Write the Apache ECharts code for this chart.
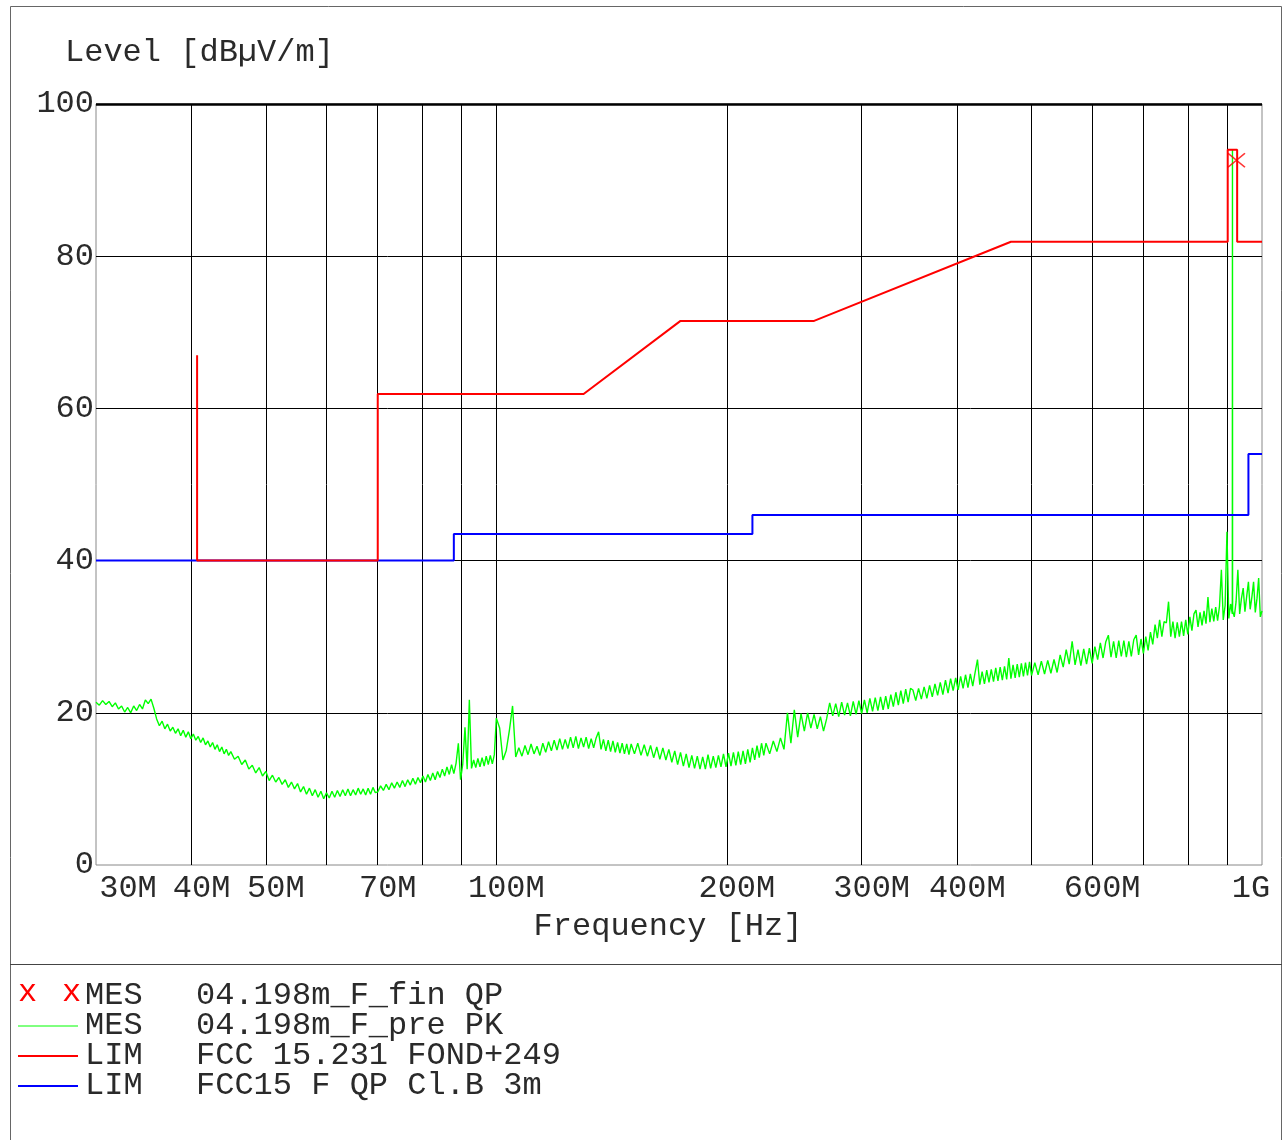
<!DOCTYPE html>
<html>
<head>
<meta charset="utf-8">
<title>Level [dBµV/m]</title>
<script src="https://cdn.jsdelivr.net/npm/echarts@6.0.0/dist/echarts.min.js"></script>
<style>
html, body { margin: 0; padding: 0; background: #fff; }
#chart { width: 1284px; height: 1140px; }
</style>
</head>
<body>
<div id="chart"></div>
<script>
// preview sweep (PK), [MHz, dBuV/m]
var pkTrace = [
    [30.0,21.4],[30.3,21.0],[30.6,21.6],[30.9,21.1],[31.2,21.5],[31.5,20.8],[31.8,21.3],[32.1,20.5],[32.4,20.9],[32.7,20.1],
    [33.0,20.7],[33.3,20.0],[33.6,20.9],[33.9,20.3],[34.2,21.1],[34.5,20.5],[34.8,21.7],[35.1,21.2],[35.4,21.8],[35.7,20.6],
    [36.0,19.2],[36.3,18.3],[36.6,18.9],[36.9,17.9],[37.2,18.5],[37.5,17.6],[37.8,18.1],[38.1,17.3],[38.4,17.9],[38.7,17.0],
    [39.0,17.7],[39.3,16.8],[39.6,17.5],[39.9,16.6],[40.2,17.2],[40.5,16.4],[40.8,16.9],[41.1,16.1],[41.4,16.7],[41.7,15.8],
    [42.0,16.3],[42.3,15.5],[42.6,16.1],[42.9,15.2],[43.2,15.8],[43.5,14.9],[43.8,15.5],[44.1,14.6],[44.4,15.2],[44.7,14.4],
    [45.0,14.9],[45.5,13.9],[46.0,14.3],[46.5,13.2],[47.0,13.8],[47.5,12.6],[48.0,13.1],[48.5,12.1],[49.0,12.8],[49.5,11.7],
    [50.0,12.3],[50.5,11.1],[51.0,11.8],[51.5,10.9],[52.0,11.5],[52.5,10.6],[53.0,11.2],[53.5,10.2],[54.0,10.9],[54.5,10.0],
    [55.0,10.7],[55.5,9.6],[56.0,10.3],[56.5,9.3],[57.0,10.1],[57.5,9.1],[58.0,9.9],[58.5,8.9],[59.0,9.7],[59.5,8.7],
    [60.0,9.5],[60.5,8.8],[61.0,9.7],[61.5,8.9],[62.0,9.8],[62.5,9.0],[63.0,9.9],[63.5,9.1],[64.0,10.0],[64.5,9.1],
    [65.0,9.9],[65.5,9.2],[66.0,10.1],[66.5,9.3],[67.0,10.0],[67.5,9.2],[68.0,10.1],[68.5,9.3],[69.0,10.2],[69.5,9.5],
    [70.0,9.6],[70.6,10.4],[71.2,9.8],[71.8,10.6],[72.4,9.9],[73.0,10.8],[73.6,10.1],[74.2,10.9],[74.8,10.2],[75.4,11.1],
    [76.0,10.3],[76.6,11.2],[77.2,10.5],[77.8,11.4],[78.4,10.6],[79.0,11.5],[79.6,10.8],[80.2,11.7],[80.8,10.9],[81.4,11.9],
    [82.0,11.1],[82.6,12.1],[83.2,11.2],[83.8,12.3],[84.4,11.5],[85.0,12.6],[85.6,11.7],[86.2,12.9],[86.8,11.9],[87.4,13.2],
    [88.0,12.0],[88.6,13.4],[89.2,16.0],[89.8,11.2],[90.4,13.3],[91.0,18.1],[91.6,12.6],[92.2,21.7],[92.8,12.7],[93.4,13.8],
    [94.0,12.8],[94.6,14.0],[95.2,12.9],[95.8,14.1],[96.4,13.0],[97.0,14.3],[97.6,13.2],[98.2,14.4],[98.8,13.3],[99.4,14.5],
    [100,19.3],[101,18.0],[102,13.8],[103,15.0],[104,17.7],[105,20.9],[106,14.2],[107,15.4],[108,14.3],[109,15.7],
    [110,14.5],[111,15.9],[112,14.6],[113,15.6],[114,14.4],[115,16.0],[116,14.8],[117,16.2],[118,15.0],[119,16.4],
    [120,15.1],[121,16.6],[122,15.2],[123,16.5],[124,15.3],[125,16.8],[126,15.4],[127,16.9],[128,15.3],[129,16.7],
    [130,15.5],[131,16.8],[132,15.3],[133,16.6],[134,15.4],[135,16.7],[136,17.5],[137,15.2],[138,16.5],[139,15.0],
    [140,16.4],[141,14.9],[142,16.3],[143,14.8],[144,16.1],[145,14.7],[146,16.0],[147,14.6],[148,15.9],[149,14.5],
    [150,15.9],[151.5,14.6],[153,16.0],[154.5,14.4],[156,15.8],[157.5,14.3],[159,15.7],[160.5,14.1],[162,15.5],[163.5,13.9],
    [165,15.4],[166.5,13.8],[168,15.2],[169.5,13.5],[171,15.0],[172.5,13.2],[174,14.8],[175.5,13.0],[177,14.6],[178.5,12.8],
    [180,14.4],[181.5,12.7],[183,14.3],[184.5,12.6],[186,14.2],[187.5,12.6],[189,14.5],[190.5,12.7],[192,14.3],[193.5,12.8],
    [195,14.4],[196.5,12.9],[198,14.6],[199.5,12.9],[201,14.7],[202.5,13.0],[204,14.8],[205.5,13.1],[207,14.9],[208.5,13.2],
    [210,15.0],[211.5,13.3],[213,15.2],[214.5,13.5],[216,15.4],[217.5,13.8],[219,15.7],[220.5,14.1],[222,16.0],[223.5,14.4],
    [225,16.0],[227.5,14.6],[230,16.3],[232.5,14.9],[235,16.7],[237.5,15.2],[240,20.0],[242.5,16.0],[245,20.4],[247.5,16.8],
    [250,19.9],[252.5,17.6],[255,20.0],[257.5,18.0],[260,19.8],[262.5,17.9],[265,19.5],[267.5,17.6],[270,19.2],[272.5,21.3],
    [275,19.6],[277.5,21.2],[280,19.5],[282.5,21.4],[285,19.7],[287.5,21.3],[290,19.6],[292.5,21.5],[295,19.8],[297.5,21.6],
    [300,19.9],[302.5,21.7],[305,20.0],[307.5,21.9],[310,20.2],[312.5,22.0],[315,20.3],[317.5,22.1],[320,20.4],[322.5,22.2],
    [325,20.5],[327.5,22.4],[330,20.8],[332.5,22.7],[335,21.0],[337.5,22.9],[340,21.2],[342.5,23.1],[345,21.4],[347.5,23.2],
    [350,23.0],[353,21.6],[356,23.2],[359,21.8],[362,23.4],[365,21.9],[368,23.6],[371,22.1],[374,23.8],[377,22.3],
    [380,24.0],[383,22.4],[386,24.3],[389,22.6],[392,24.5],[395,22.9],[398,24.6],[401,23.0],[404,24.8],[407,23.2],
    [410,25.0],[413,23.3],[416,25.1],[419,23.5],[422,25.3],[425,27.0],[428,23.7],[431,25.4],[434,23.8],[437,25.6],
    [440,24.0],[443,25.7],[446,24.1],[449,25.9],[452,24.2],[455,26.0],[458,24.3],[461,26.1],[464,24.4],[467,27.2],
    [470,24.5],[473,26.3],[476,24.6],[479,26.4],[482,24.7],[485,26.5],[488,24.8],[491,26.6],[494,24.9],[497,26.7],
    [500,24.9],[505,26.6],[510,25.0],[515,26.8],[520,25.1],[525,26.9],[530,25.2],[535,27.0],[540,25.3],[545,27.6],
    [550,26.0],[555,28.3],[560,26.4],[565,29.4],[570,26.3],[575,28.3],[580,26.2],[585,28.4],[590,26.4],[595,28.5],
    [600,26.5],[605,28.7],[610,27.0],[615,29.2],[620,27.2],[625,29.3],[630,30.2],[635,27.3],[640,29.4],[645,27.2],
    [650,29.5],[655,27.4],[660,29.5],[665,27.3],[670,29.4],[675,27.4],[680,29.6],[685,30.2],[690,27.6],[695,29.7],
    [700,27.8],[705,30.0],[710,28.2],[715,30.6],[720,29.0],[725,31.6],[730,29.8],[735,32.2],[740,30.0],[745,32.0],
    [750,31.8],[755,34.6],[760,30.0],[765,32.0],[770,29.8],[775,31.9],[780,30.0],[785,32.0],[790,30.1],[795,32.2],
    [800,30.3],[805,32.6],[810,30.8],[815,33.0],[820,33.5],[825,31.3],[830,33.2],[835,31.5],[840,33.4],[845,31.7],
    [850,35.2],[855,31.9],[860,33.7],[865,32.0],[870,33.9],[875,32.1],[880,34.0],[885,38.8],[890,32.2],[895,34.1],
    [900,43.8],[905,32.4],[910,34.3],[914.6,33.0],[915,94.0],[915.4,33.4],[920,32.6],[925,34.6],[930,38.8],[935,33.0],
    [940,35.0],[945,36.4],[950,33.3],[955,35.3],[960,37.2],[965,33.6],[970,35.2],[975,37.2],[980,33.2],[985,35.0],
    [990,37.7],[995,32.6],[1000,33.4]
];

// final QP result
var finF = [915];
var finV = [92.6];

// limit FCC 15.231 FOND+249
var limFondF = [40.66, 40.66, 70, 70, 130, 174, 260, 470, 902, 902, 928, 928, 1000];
var limFondV = [67.0, 40.0, 40.0, 61.9, 61.9, 71.5, 71.5, 81.9, 81.9, 94.0, 94.0, 81.9, 81.9];

// limit FCC15 F QP Cl.B 3m
var limQpF = [30, 88, 88, 216, 216, 960, 960, 1000];
var limQpV = [40.0, 40.0, 43.5, 43.5, 46.0, 46.0, 54.0, 54.0];

var gridFreqs = [40, 50, 60, 70, 80, 90, 100, 200, 300, 400, 500, 600, 700, 800, 900];
var tickFreqs = [30, 40, 50, 70, 100, 200, 300, 400, 600, 1000];
var tickLabels = ['30M', '40M', '50M', '70M', '100M', '200M', '300M', '400M', '600M', '1G'];

var legendTags = ['MES', 'MES', 'LIM', 'LIM'];
var legendNames = ['04.198m_F_fin QP', '04.198m_F_pre PK', 'FCC 15.231 FOND+249', 'FCC15 F QP Cl.B 3m'];

var FAMILY = "'Liberation Mono', monospace";
var FS = 32;
var FONT = FS + "px 'Liberation Mono', monospace";
var INK = '#2a2a2a';

function zip(a, b)
{
    var out = [];
    for (var i = 0; i < a.length; i++) out.push([a[i], b[i]]);
    return out;
}

function tickPad(i)
{
    if (i == 0) return [0, 0, 0, 64];
    if (i == tickFreqs.length - 1) return [0, 22, 0, 0];
    return [0, 0, 0, 20];
}

function buildLegend()
{
    var rowY = [996, 1026, 1056, 1086];
    var sample = [null, ['#00ff00', 1], ['#ff0000', 2], ['#0000ff', 2]];
    var g = [];
    for (var i = 0; i < rowY.length; i++)
    {
        if (sample[i])
        {
            g.push({
                type: 'line', silent: true,
                shape: {x1: 18, y1: rowY[i], x2: 78, y2: rowY[i]},
                style: {stroke: sample[i][0], lineWidth: sample[i][1]}
            });
        }
        g.push({type: 'text', x: 85, y: rowY[i], style: {text: legendTags[i], font: FONT, fill: INK, verticalAlign: 'middle'}});
        g.push({type: 'text', x: 196, y: rowY[i], style: {text: legendNames[i], font: FONT, fill: INK, verticalAlign: 'middle'}});
    }
    g.push({type: 'text', x: 18, y: rowY[0] - 3, style: {text: 'x', font: FONT, fill: '#ff0000', verticalAlign: 'middle'}});
    g.push({type: 'text', x: 62, y: rowY[0] - 3, style: {text: 'x', font: FONT, fill: '#ff0000', verticalAlign: 'middle'}});
    return g;
}

var myChart = echarts.init(document.getElementById('chart'), null, {renderer: 'canvas'});

var option = {
    animation: false,
    backgroundColor: '#ffffff',
    title: {
        text: 'Level [dBµV/m]',
        left: 60,
        top: 32,
        textStyle: {fontFamily: FAMILY, fontSize: FS, fontWeight: 'normal', color: INK}
    },
    grid: {
        left: 96, top: 104, width: 1166, height: 761,
        show: true, borderColor: '#888', borderWidth: 1,
        outerBoundsMode: 'none'
    },
    xAxis: {
        type: 'log', logBase: 10, min: 30, max: 1000,
        axisLine: {show: false}, axisTick: {show: false},
        axisLabel: {show: false}, splitLine: {show: false},
        name: 'Frequency [Hz]', nameLocation: 'middle', nameGap: 46,
        nameTextStyle: {fontFamily: FAMILY, fontSize: FS, color: INK, padding: [0, 22, 0, 0]}
    },
    yAxis: {
        type: 'value', min: 0, max: 100, interval: 20,
        axisLine: {show: false}, axisTick: {show: false},
        axisLabel: {fontFamily: FAMILY, fontSize: FS, color: INK, margin: 2},
        splitLine: {show: true, showMinLine: false, lineStyle: {color: '#000', width: 1}}
    },
    graphic: [
        {type: 'rect', silent: true, shape: {x: 10.5, y: 6.5, width: 1271, height: 1150},
            style: {fill: 'none', stroke: '#666', lineWidth: 1}},
        {type: 'line', silent: true, shape: {x1: 10, y1: 964.5, x2: 1282, y2: 964.5},
            style: {stroke: '#444', lineWidth: 1}}
    ].concat(buildLegend()),
    series: [
        {
            // vertical grid of the log axis + top line
            type: 'line', data: [], z: 1, silent: true,
            markLine: {
                silent: true, z: 1, animation: false,
                symbol: ['none', 'none'],
                label: {show: false},
                lineStyle: {color: '#000', width: 1, type: 'solid'},
                data: gridFreqs.map(function (f) { return {xAxis: f}; })
                    .concat([{yAxis: 100, lineStyle: {color: '#000', width: 2.5, type: 'solid'}}])
            }
        },
        {
            // frequency tick labels
            type: 'line', data: [], z: 1, silent: true,
            markLine: {
                silent: true, z: 1, animation: false,
                symbol: ['none', 'none'],
                lineStyle: {color: 'rgba(0,0,0,0)', width: 1},
                label: {show: true, position: 'start', distance: 8, fontFamily: FAMILY, fontSize: FS, color: INK, opacity: 1},
                data: tickFreqs.map(function (f, i)
                {
                    return {xAxis: f, label: {formatter: tickLabels[i], padding: tickPad(i)}};
                })
            }
        },
        {
            name: 'MES 04.198m_F_pre PK', type: 'line', z: 3,
            data: pkTrace, symbol: 'none',
            lineStyle: {color: '#00ff00', width: 1.4}
        },
        {
            name: 'LIM FCC15 F QP Cl.B 3m', type: 'line', z: 3,
            data: zip(limQpF, limQpV), symbol: 'none',
            lineStyle: {color: '#0000ff', width: 2}
        },
        {
            name: 'LIM FCC 15.231 FOND+249', type: 'line', z: 4,
            data: zip(limFondF, limFondV), symbol: 'none',
            lineStyle: {color: '#ff0000', width: 2}
        },
        {
            name: 'MES 04.198m_F_fin QP', type: 'scatter', z: 5,
            data: zip(finF, finV),
            symbol: 'path://M0,0L10,10M10,0L0,10', symbolSize: [17, 14], symbolOffset: [4, 0],
            itemStyle: {color: 'rgba(0,0,0,0)', borderColor: '#ff0000', borderWidth: 1.5}
        }
    ]
};

myChart.setOption(option);
</script>
</body>
</html>
